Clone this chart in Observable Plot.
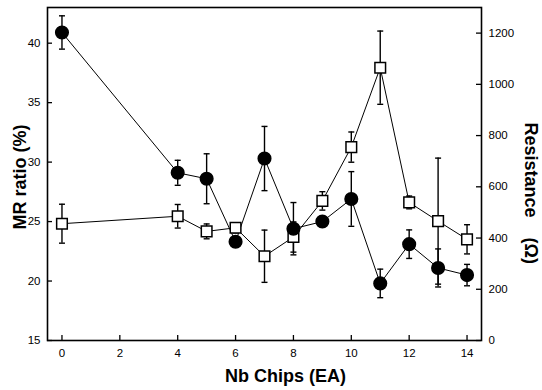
<!DOCTYPE html>
<html><head><meta charset="utf-8">
<script src="https://cdn.jsdelivr.net/npm/d3@7"></script>
<script src="https://cdn.jsdelivr.net/npm/@observablehq/plot@0.6"></script>
<style>body{margin:0;background:#fff}</style>
</head><body><div id="chart"></div>
<script>
// Data
const chips = [0, 4, 5, 6, 7, 8, 9, 10, 11, 12, 13, 14];
const mrRatio = [40.9, 29.1, 28.6, 23.3, 30.3, 24.4, 25.0, 26.9, 19.8, 23.1, 21.1, 20.5];
const mrErr   = [1.4, 1.05, 2.1, 0.4, 2.7, 2.2, 0.4, 2.3, 1.2, 1.2, 1.6, 0.9];
const resistance = [456, 485, 426, 440, 329, 404, 545, 755, 1065, 539, 466, 395];
const resErr     = [76, 46, 29, 20, 102, 59, 36, 59, 143, 25, 246, 57];
const xTicks = [0, 2, 4, 6, 8, 10, 12, 14];
const mrTicks = [15, 20, 25, 30, 35, 40];
const resTicks = [0, 200, 400, 600, 800, 1000, 1200];

const W = 542, H = 390, mL = 47, mR = 61, mT = 7, mB = 50;
const innerW = W - mL - mR, innerH = H - mT - mB;
const MR_MIN = 15, MR_MAX = 43, RES_MAX = 1300;
const resToMr = r => MR_MIN + r * (MR_MAX - MR_MIN) / RES_MAX;

const circ = chips.map((x, i) => ({x, y: mrRatio[i], lo: mrRatio[i] - mrErr[i], hi: mrRatio[i] + mrErr[i]}));
const sq = chips.map((x, i) => ({x, y: resToMr(resistance[i]), lo: resToMr(resistance[i] - resErr[i]), hi: resToMr(resistance[i] + resErr[i])}));

const cap = {draw(ctx, size) { const w = Math.sqrt(size / Math.PI); ctx.moveTo(-w, 0); ctx.lineTo(w, 0); }};
const font = "'Liberation Sans', Arial, Helvetica, sans-serif";

const chart = Plot.plot({
  width: W, height: H,
  marginLeft: mL, marginRight: mR, marginTop: mT, marginBottom: mB,
  style: {fontFamily: font, fontSize: "11.5px", background: "white", color: "black"},
  x: {domain: [-0.5, 14.5], label: null},
  y: {domain: [MR_MIN, MR_MAX], label: null},
  marks: [
    Plot.frame({stroke: "black", strokeWidth: 1.6}),
    // inward ticks
    Plot.ruleY(mrTicks, {stroke: "black", strokeWidth: 1.3, insetRight: innerW - 5}),
    Plot.ruleY(resTicks, {y: resToMr, stroke: "black", strokeWidth: 1.3, insetLeft: innerW - 5}),
    Plot.ruleX(xTicks, {stroke: "black", strokeWidth: 1.3, insetTop: innerH - 5}),
    // tick labels
    Plot.axisY(mrTicks, {tickSize: 0, tickPadding: 7, label: null}),
    Plot.axisX(xTicks, {tickSize: 0, tickPadding: 8, label: null}),
    Plot.text(resTicks, {y: resToMr, text: d => String(d), frameAnchor: "right", textAnchor: "start", dx: 7}),
    // axis titles
    Plot.text(["MR ratio (%)"], {frameAnchor: "left", rotate: -90, dx: -21.5, dy: 3, textAnchor: "middle", lineAnchor: "bottom", fontSize: 18, fontWeight: "bold"}),
    Plot.text(["Resistance\u00a0\u00a0\u00a0\u00a0(\u03a9)"], {frameAnchor: "right", rotate: 90, dx: 43, dy: -51.5, textAnchor: "start", lineAnchor: "bottom", fontSize: 18, fontWeight: "bold"}),
    Plot.text(["Nb Chips (EA)"], {frameAnchor: "bottom", dx: 21, dy: 41, lineAnchor: "bottom", fontSize: 18, fontWeight: "bold"}),
    // connecting lines
    Plot.line(sq, {x: "x", y: "y", stroke: "black", strokeWidth: 1}),
    Plot.line(circ, {x: "x", y: "y", stroke: "black", strokeWidth: 1}),
    // error bars
    Plot.ruleX(sq, {x: "x", y1: "lo", y2: "hi", stroke: "black", strokeWidth: 1.4}),
    Plot.ruleX(circ, {x: "x", y1: "lo", y2: "hi", stroke: "black", strokeWidth: 1.4}),
    Plot.dot(sq, {x: "x", y: "hi", symbol: cap, r: 3, stroke: "black", strokeWidth: 1.4}),
    Plot.dot(sq, {x: "x", y: "lo", symbol: cap, r: 3, stroke: "black", strokeWidth: 1.4}),
    Plot.dot(circ, {x: "x", y: "hi", symbol: cap, r: 3, stroke: "black", strokeWidth: 1.4}),
    Plot.dot(circ, {x: "x", y: "lo", symbol: cap, r: 3, stroke: "black", strokeWidth: 1.4}),
    // markers
    Plot.dot(sq, {x: "x", y: "y", symbol: "square", r: 6, fill: "white", stroke: "black", strokeWidth: 1.5}),
    Plot.dot(circ, {x: "x", y: "y", r: 6.3, fill: "black", stroke: "black"})
  ]
});
document.getElementById("chart").appendChild(chart);
</script>
</body></html>
